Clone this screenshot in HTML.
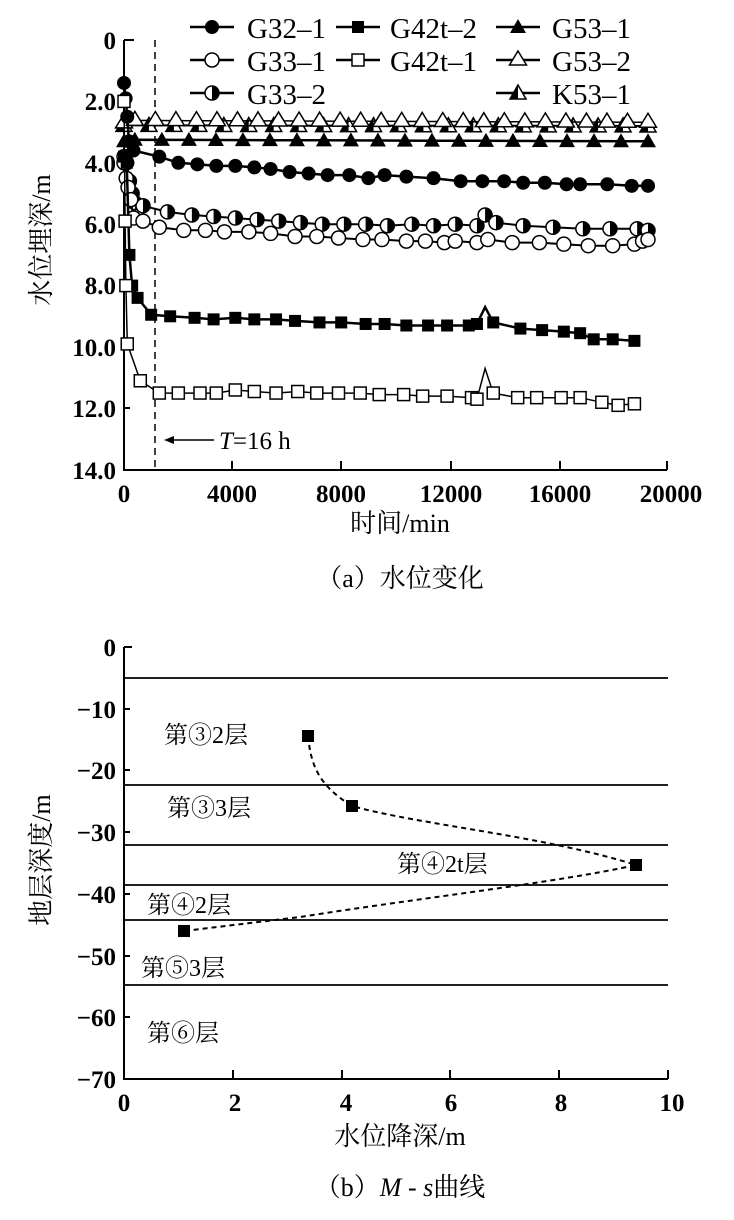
<!DOCTYPE html>
<html><head><meta charset="utf-8"><style>
html,body{margin:0;padding:0;background:#fff;}
svg{display:block;}
text{font-family:"Liberation Serif","Noto Serif CJK SC",serif;fill:#000;}
</style></head><body>
<svg id="s" width="734" height="1220" viewBox="0 0 734 1220" xmlns="http://www.w3.org/2000/svg">
<g stroke="#000" fill="none" stroke-width="2">
<path d="M124,40 V470 H667"/>
<path d="M124,40h10M124,101h6M124,163h6M124,224h6M124,285h6M124,347h6M124,408h6"/>
<path d="M232,470v-9M341,470v-9M451,470v-9M560,470v-9M667,470v-9"/>
</g>
<g font-size="25" text-anchor="end" font-weight="bold">
<text x="116" y="49">0</text><text x="116" y="110">2.0</text><text x="116" y="172">4.0</text><text x="116" y="233">6.0</text>
<text x="116" y="294">8.0</text><text x="116" y="356">10.0</text><text x="116" y="417">12.0</text><text x="116" y="479">14.0</text>
</g>
<g font-size="25" text-anchor="middle" font-weight="bold">
<text x="124" y="502">0</text><text x="232" y="502">4000</text><text x="341" y="502">8000</text><text x="451" y="502">12000</text><text x="560" y="502">16000</text><text x="671" y="502">20000</text>
</g>
<text x="400" y="532" font-size="26" text-anchor="middle">时间/min</text>
<text x="400" y="587" font-size="26" text-anchor="middle">（a）水位变化</text>
<text font-size="26" text-anchor="middle" transform="translate(50,240) rotate(-90)">水位埋深/m</text>
<line x1="155" y1="40" x2="155" y2="470" stroke="#000" stroke-width="1.5" stroke-dasharray="7,5"/>
<path d="M168,440 H214" stroke="#000" stroke-width="1.5"/><path d="M164,440 l10,-4 v8z" fill="#000"/>
<text x="219" y="449" font-size="25"><tspan font-style="italic">T</tspan>=16 h</text>
<g font-size="29">
<text x="247" y="38">G32–1</text><text x="247" y="71">G33–1</text><text x="247" y="104">G33–2</text>
<text x="390" y="38">G42t–2</text><text x="390" y="71">G42t–1</text>
<text x="552" y="38">G53–1</text><text x="552" y="71">G53–2</text><text x="552" y="104">K53–1</text>
</g>
<g id="ser"></g>

<!-- chart b -->
<g stroke="#000" fill="none" stroke-width="2">
<path d="M124,647 V1079 H668"/>
<path d="M124,647h8M124,709h6M124,770h6M124,832h6M124,894h6M124,956h6M124,1017h6"/>
<path d="M233,1079v-9M342,1079v-9M450,1079v-9M559,1079v-9M668,1079v-9"/>
</g>
<g stroke="#000" stroke-width="1.8">
<line x1="124" y1="678" x2="668" y2="678"/><line x1="124" y1="785" x2="668" y2="785"/><line x1="124" y1="845" x2="668" y2="845"/>
<line x1="124" y1="885" x2="668" y2="885"/><line x1="124" y1="920" x2="668" y2="920"/><line x1="124" y1="985" x2="668" y2="985"/>
</g>
<g font-size="25" text-anchor="end" font-weight="bold">
<text x="116" y="656">0</text><text x="116" y="718">−10</text><text x="116" y="779">−20</text><text x="116" y="841">−30</text>
<text x="116" y="903">−40</text><text x="116" y="965">−50</text><text x="116" y="1026">−60</text><text x="116" y="1088">−70</text>
</g>
<g font-size="25" text-anchor="middle" font-weight="bold">
<text x="124" y="1111">0</text><text x="235" y="1111">2</text><text x="346" y="1111">4</text><text x="451" y="1111">6</text><text x="561" y="1111">8</text><text x="672" y="1111">10</text>
</g>
<text x="400" y="1145" font-size="26" text-anchor="middle">水位降深/m</text>
<text x="400" y="1196" font-size="26" text-anchor="middle">（b）<tspan font-style="italic">M</tspan> - <tspan font-style="italic">s</tspan>曲线</text>
<text font-size="26" text-anchor="middle" transform="translate(50,860) rotate(-90)">地层深度/m</text>
<g font-size="24">
<text x="164" y="743">第③2层</text><text x="167" y="816">第③3层</text><text x="397" y="872">第④2t层</text>
<text x="147" y="913">第④2层</text><text x="141" y="976">第⑤3层</text><text x="147" y="1041">第⑥层</text>
</g>
<path d="M308,736 C311,765 318,785 352,806 C420,825 540,835 636,865 C560,882 420,898 300,917 L184,931" stroke="#000" stroke-width="2" fill="none" stroke-dasharray="5,4"/>
<g fill="#000">
<rect x="302" y="730" width="12" height="12"/><rect x="346" y="800" width="12" height="12"/><rect x="630" y="859" width="12" height="12"/><rect x="178" y="925" width="12" height="12"/>
</g>
</svg>
<script>
var NS="http://www.w3.org/2000/svg",G=document.getElementById("ser");
function X(t){return 124+t*543/20000;}function Y(v){return 40+v*30.7;}
function el(n,a){var e=document.createElementNS(NS,n);for(var k in a)e.setAttribute(k,a[k]);G.appendChild(e);return e;}
function mk(type,x,y){
 if(type=="fc")el("circle",{cx:x,cy:y,r:7,fill:"#000"});
 else if(type=="oc")el("circle",{cx:x,cy:y,r:7,fill:"#fff",stroke:"#000","stroke-width":1.5});
 else if(type=="hc"){el("circle",{cx:x,cy:y,r:7,fill:"#fff",stroke:"#000","stroke-width":1.5});el("path",{d:"M"+x+","+(y-7)+" A7,7 0 0 1 "+x+","+(y+7)+"Z",fill:"#000"});}
 else if(type=="fs")el("rect",{x:x-6,y:y-6,width:12,height:12,fill:"#000"});
 else if(type=="os")el("rect",{x:x-6,y:y-6,width:12,height:12,fill:"#fff",stroke:"#000","stroke-width":1.5});
 else if(type=="ft")el("path",{d:"M"+x+","+(y-8)+"l8,14h-16z",fill:"#000"});
 else if(type=="ot")el("path",{d:"M"+x+","+(y-9)+"l8.5,14h-17z",fill:"#fff",stroke:"#000","stroke-width":1.5});
 else if(type=="ht"){el("path",{d:"M"+x+","+(y-8)+"l8,14h-16z",fill:"#fff",stroke:"#000","stroke-width":1.5});el("path",{d:"M"+x+","+(y-8)+"l0,14h-8z",fill:"#000"});}
}
function series(type,pts,sw){
 var d=pts.map(function(p,i){return (i?"L":"M")+X(p[0]).toFixed(1)+","+Y(p[1]).toFixed(1);}).join("");
 el("path",{d:d,stroke:"#000","stroke-width":sw,fill:"none"});
 pts.forEach(function(p){if(!p[2])mk(type,X(p[0]),Y(p[1]));});
}
function flat(v0,v1,n,t0,t1){var a=[];for(var i=0;i<n;i++){var f=i/(n-1);a.push([t0+(t1-t0)*f,v0+(v1-v0)*f]);}return a;}
series("ht",flat(2.78,2.8,22,0,19300),2);
series("ot",[[0,2.7]].concat(flat(2.62,2.68,26,400,19300)),1.5);
series("ft",[[0,3.3]].concat(flat(3.25,3.3,20,400,19300)),2.5);
series("fc",[[0,1.4],[60,1.9],[120,2.5],[180,3.3],[350,3.6],[1300,3.8],[2000,4.0],[2700,4.05],[3400,4.1],[4100,4.1],[4800,4.15],[5400,4.2],[6100,4.3],[6800,4.35],[7500,4.4],[8300,4.4],[9000,4.5],[9600,4.4],[10400,4.45],[11400,4.5],[12400,4.6],[13200,4.6],[14000,4.6],[14700,4.65],[15500,4.65],[16300,4.7],[16800,4.7],[17800,4.7],[18700,4.75],[19300,4.75]],2.5);
series("hc",[[0,3.8],[100,4.0],[200,4.6],[300,5.0],[400,5.3],[700,5.4],[1600,5.6],[2500,5.7],[3300,5.75],[4100,5.8],[4900,5.85],[5700,5.9],[6500,5.95],[7300,6.0],[8100,6.0],[8900,6.0],[9700,6.05],[10600,6.0],[11400,6.05],[12200,6.0],[13000,6.05],[13300,5.7],[13700,5.95],[14700,6.05],[15800,6.1],[16900,6.15],[17900,6.15],[18900,6.15],[19300,6.2]],2);
series("oc",[[0,4.0],[80,4.5],[150,4.8],[250,5.2],[350,5.8],[700,5.9],[1300,6.1],[2200,6.2],[3000,6.2],[3700,6.25],[4600,6.25],[5400,6.3],[6300,6.4],[7100,6.4],[7900,6.45],[8800,6.5],[9500,6.5],[10400,6.55],[11100,6.55],[11800,6.6],[12200,6.55],[13000,6.6],[13400,6.5],[14300,6.6],[15300,6.6],[16200,6.65],[17100,6.7],[18000,6.7],[18800,6.65],[19100,6.55],[19300,6.5]],2);
series("fs",[[0,3.8],[100,4.0],[200,7.0],[300,8.0],[500,8.4],[1000,8.95],[1700,9.0],[2600,9.05],[3300,9.1],[4100,9.05],[4800,9.1],[5600,9.1],[6300,9.15],[7200,9.2],[8000,9.2],[8900,9.25],[9600,9.25],[10400,9.3],[11200,9.3],[11900,9.3],[12700,9.3],[13000,9.25],[13300,8.7,1],[13600,9.2],[14600,9.4],[15400,9.45],[16200,9.5],[16800,9.55],[17300,9.75],[18000,9.75],[18800,9.8]],2.5);
series("os",[[0,2.0],[40,5.9],[70,8.0],[120,9.9],[600,11.1],[1300,11.5],[2000,11.5],[2800,11.5],[3400,11.5],[4100,11.4],[4800,11.45],[5600,11.5],[6400,11.45],[7100,11.5],[7900,11.5],[8700,11.5],[9400,11.55],[10300,11.55],[11000,11.6],[11900,11.6],[12800,11.65],[13000,11.7],[13300,10.7,1],[13600,11.5],[14500,11.65],[15200,11.65],[16100,11.65],[16800,11.65],[17600,11.8],[18200,11.9],[18800,11.85]],1.5);
function leg(type,x,y){el("path",{d:"M"+(x-22)+","+y+"H"+(x+22),stroke:"#000","stroke-width":2.5});mk(type,x,y);}
leg("fc",212,27);leg("oc",212,60);leg("hc",212,93);
leg("fs",358,27);leg("os",358,60);
leg("ft",518,27);leg("ot",518,60);leg("ht",518,93);
</script>
</body></html>
